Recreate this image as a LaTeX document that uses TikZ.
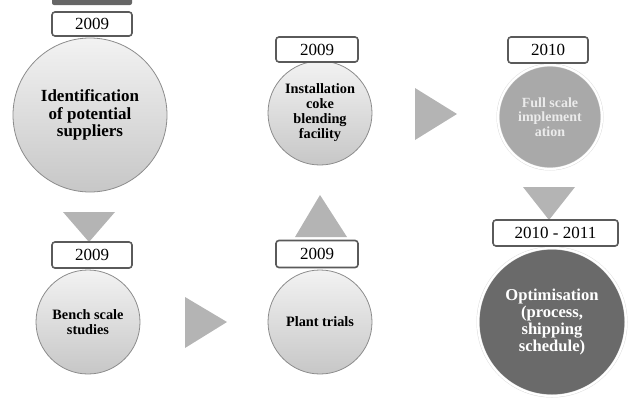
\documentclass[tikz,border=0pt]{standalone}
\usepackage{fontspec}
\setmainfont{Liberation Serif}
\usepackage{xcolor}

\definecolor{arrowgray}{HTML}{B4B4B4}
\definecolor{boxline}{HTML}{5A5A5A}
\definecolor{midgray}{HTML}{A9A9A9}
\definecolor{darkgray}{HTML}{6A6A6A}

\tikzset{
  stage/.style={circle,draw=black!45,line width=0.8pt,inner sep=0pt,
    top color=black!5,bottom color=black!22,align=center,
    font=\bfseries\fontsize{14.3}{15}\selectfont},
  bigstage/.style={stage,font=\bfseries\fontsize{17}{17.5}\selectfont},
  donestage/.style={circle,inner sep=0pt,align=center,draw=black!15,
    double=white,double distance=2.2pt},
  yearbox/.style={draw=boxline,line width=1.6pt,rounded corners=3pt,
    fill=white,inner sep=0pt,font=\fontsize{17}{18}\selectfont},
  chevron/.style={fill=arrowgray}
}

\begin{document}
\begin{tikzpicture}[x=1pt,y=-1pt]
    \useasboundingbox (0,0) rectangle (629,405);
    \fill[black!60,rounded corners=2pt] (52,-4) rectangle (132,5);

    % the arrows between the stages
    \fill[chevron] (63,212) -- (115,212) -- (89,242) -- cycle;
    \fill[chevron] (185,297) -- (185,348) -- (227,322) -- cycle;
    \fill[chevron] (295,237) -- (347,237) -- (320,195) -- cycle;
    \fill[chevron] (415,88) -- (415,140) -- (457,114) -- cycle;
    \fill[chevron] (523,187) -- (575,187) -- (549,220) -- cycle;

    % stages
    \node[bigstage,minimum size=154pt] (ident) at (90,115)
    {Identification\\of potential\\suppliers};
    \node[stage,minimum size=104pt] (bench) at (88,322)
    {Bench scale\\studies};
    \node[stage,minimum size=104pt] (plant) at (320,322) {Plant trials};
    \node[stage,minimum size=104pt] (install) at (320,113)
    {Installation\\coke\\blending\\facility};
    \node[donestage,fill=midgray,text=white!92!black,minimum size=104pt,
      font=\bfseries\fontsize{14}{14.5}\selectfont] (full) at (550,117)
    {Full scale\\implement\\ation};
    \node[donestage,fill=darkgray,text=white,minimum size=148pt,
      font=\bfseries\fontsize{16.6}{16.7}\selectfont] (optim) at (552,322)
    {Optimisation\\(process,\\shipping\\schedule)};

    % years
    \node[yearbox,minimum width=80pt,minimum height=24pt] (y1) at (92,24) {2009};
    \node[yearbox,minimum width=80pt,minimum height=26pt] (y2) at (92,255) {2009};
    \node[yearbox,minimum width=82pt,minimum height=27pt] (y3) at (317,254) {2009};
    \node[yearbox,minimum width=82pt,minimum height=25pt] (y4) at (317,49.5) {2009};
    \node[yearbox,minimum width=80pt,minimum height=26pt] (y5) at (548,50) {2010};
    \node[yearbox,minimum width=125pt,minimum height=26pt] (y6) at (555.5,233)
    {2010 - 2011};

  \end{tikzpicture}
\end{document}
